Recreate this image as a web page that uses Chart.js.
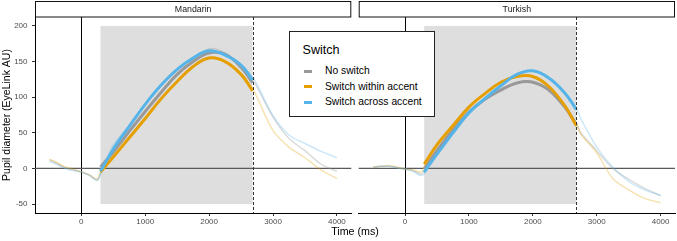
<!DOCTYPE html>
<html>
<head>
<meta charset="utf-8">
<script src="https://cdn.jsdelivr.net/npm/chart.js@4/dist/chart.umd.min.js"></script>
<style>
  body { margin: 0; background: #fff; }
  #wrap { position: relative; width: 677px; height: 241px; font-family: "Liberation Sans", Arial, sans-serif; }
  canvas { position: absolute; top: 0; }
  #legend { position: absolute; left: 289px; top: 31px; width: 146px; height: 86px; box-sizing: border-box;
            border: 1px solid #222; background: #fff; color: #000; }
  #legend .ttl { position: absolute; left: 12.5px; top: 11px; font-size: 12.6px; line-height: 15px; }
  #legend .item { position: absolute; left: 35px; font-size: 10.3px; line-height: 12px; white-space: nowrap; }
  #legend .key { position: absolute; left: -21px; top: 4.5px; width: 8px; height: 3px; }
  #xtitle { position: absolute; left: 35px; width: 640px; top: 225px; text-align: center; font-size: 10.7px; line-height: 13px; color: #000; }
</style>
</head>
<body>
<div id="wrap">
  <canvas id="mandarin" width="352" height="241" style="left:0"></canvas>
  <canvas id="turkish" width="325" height="241" style="left:352px"></canvas>
  <div id="legend">
    <div class="ttl">Switch</div>
    <div class="item" style="top:33px"><span class="key" style="background:#999999"></span>No switch</div>
    <div class="item" style="top:48.7px"><span class="key" style="background:#E69F00"></span>Switch within accent</div>
    <div class="item" style="top:64.4px"><span class="key" style="background:#56B4E9"></span>Switch across accent</div>
  </div>
  <div id="xtitle">Time (ms)</div>
</div>
<script>
// categories
const panels = ['Mandarin', 'Turkish'];
const conditions = ['No switch', 'Switch within accent', 'Switch across accent'];
const colors = ['#999999', '#E69F00', '#56B4E9'];
const fadedColors = ['rgba(153,153,153,0.35)', 'rgba(230,159,0,0.3)', 'rgba(86,180,233,0.3)'];

// ticks
const xTicks = [0, 1000, 2000, 3000, 4000];
const yTicks = [-50, 0, 50, 100, 150, 200];

// analysis window (grey box) and cut-off
const windowTime = [300, 2680];
const windowRange = [-50, 200];

// raw averaged traces
const rawTime = [-500, -375, -250, -125, 0, 125, 250, 300, 500, 750, 1000, 1250, 1500, 1750, 2000, 2250, 2500, 2680, 2750, 3000, 3250, 3500, 3750, 4000];
const mandarinRawNo     = [12, 7, 1, -2, -5, -9, -16, -7, 28, 52, 80, 107, 132, 151, 168, 162, 144, 124, 114, 72, 42, 25, 6, -4];
const mandarinRawWithin = [13, 8, 2, -1, -5, -9, -15, -6, 16, 43, 70, 98, 122, 143, 156, 151, 133, 112, 100, 53, 30, 15, -2, -14];
const mandarinRawAcross = [10, 5, 0, -3, -5, -10, -17, -8, 33, 60, 90, 117, 139, 156, 165, 160, 146, 128, 118, 74, 47, 35, 24, 15];
const turkishRawNo      = [2, 3, 3, 1, -1, -3, -8, -3, 25, 54, 79, 97, 110, 120, 122, 110, 86, 64, 50, 25, 0, -15, -28, -38];
const turkishRawWithin  = [2, 3, 4, 2, -1, -2, -5, 3, 35, 62, 86, 105, 121, 130, 129, 115, 88, 62, 48, 22, -14, -30, -42, -48];
const turkishRawAcross  = [1, 3, 3, 1, -1, -4, -10, -7, 20, 50, 78, 98, 116, 132, 137, 126, 106, 85, 70, 30, 2, -18, -30, -38];

// model fits inside the window
const fitTime = [300, 500, 750, 1000, 1250, 1500, 1750, 2000, 2250, 2500, 2680];
const mandarinFitNo     = [2, 23, 52, 80, 107, 132, 150, 162, 160, 142, 120];
const mandarinFitWithin = [-5, 16, 43, 70, 98, 122, 143, 155, 150, 132, 109];
const mandarinFitAcross = [-4, 27, 59, 90, 117, 139, 155, 165, 159, 145, 124];
const turkishFitNo      = [-1, 25, 54, 79, 97, 110, 120, 121, 110, 86, 62];
const turkishFitWithin  = [6, 33, 60, 86, 105, 121, 129, 129, 115, 88, 60];
const turkishFitAcross  = [-5, 20, 50, 78, 98, 116, 132, 137, 127, 106, 83];

const toPoints = (xs, ys) => xs.map((x, i) => ({ x: x, y: ys[i] }));

const decor = {
  id: 'decor',
  beforeDatasetsDraw(chart, args, opts) {
    const { ctx, chartArea: a, scales: { x, y } } = chart;
    ctx.save();
    // grey analysis window
    const x0 = x.getPixelForValue(windowTime[0]), x1 = x.getPixelForValue(windowTime[1]);
    const y0 = y.getPixelForValue(windowRange[1]), y1 = y.getPixelForValue(windowRange[0]);
    ctx.fillStyle = '#dedede';
    ctx.fillRect(x0, y0, x1 - x0, y1 - y0);
    // zero lines
    const zx = Math.round(x.getPixelForValue(0)) + 0.5;
    ctx.strokeStyle = '#000';
    ctx.lineWidth = 1;
    ctx.beginPath(); ctx.moveTo(zx, a.top); ctx.lineTo(zx, a.bottom); ctx.stroke();
    const zy = y.getPixelForValue(0);
    ctx.strokeStyle = '#5a5a5a';
    ctx.lineWidth = 1.2;
    ctx.beginPath(); ctx.moveTo(a.left, zy); ctx.lineTo(a.right, zy); ctx.stroke();
    ctx.restore();
  },
  afterDatasetsDraw(chart, args, opts) {
    const { ctx, chartArea: a, scales: { x } } = chart;
    ctx.save();
    // dashed cut-off line
    const cx = Math.round(x.getPixelForValue(windowTime[1])) + 0.5;
    ctx.strokeStyle = '#333';
    ctx.lineWidth = 1;
    ctx.setLineDash([3, 2]);
    ctx.beginPath(); ctx.moveTo(cx, a.top); ctx.lineTo(cx, a.bottom); ctx.stroke();
    ctx.restore();
  },
  afterDraw(chart, args, opts) {
    const { ctx, chartArea: a } = chart;
    ctx.save();
    // facet strip
    ctx.fillStyle = '#fff';
    ctx.strokeStyle = '#111';
    ctx.lineWidth = 1;
    ctx.fillRect(a.left, 1, a.right - a.left, a.top - 1);
    ctx.strokeRect(a.left + 0.5, 1.5, a.right - a.left - 1, a.top - 1.5);
    ctx.fillStyle = '#1a1a1a';
    ctx.font = '8.8px "Liberation Sans", Arial, sans-serif';
    ctx.textAlign = 'center';
    ctx.textBaseline = 'middle';
    ctx.fillText(opts.title, (a.left + a.right) / 2, (a.top + 1.5) / 2 + 0.5);
    ctx.restore();
  }
};

function makeChart(id, title, raw, fit, showY) {
  const datasets = [];
  // fits on top, blue first
  [2, 1, 0].forEach(i => {
    datasets.push({
      label: conditions[i],
      data: toPoints(fitTime, fit[i]),
      borderColor: colors[i],
      borderWidth: 3,
      pointRadius: 0,
      tension: 0.4,
      order: 0
    });
  });
  [2, 1, 0].forEach(i => {
    datasets.push({
      label: conditions[i] + ' (raw)',
      data: toPoints(rawTime, raw[i]),
      borderColor: fadedColors[i],
      borderWidth: 1.5,
      pointRadius: 0,
      tension: 0.3,
      order: 1
    });
  });

  return new Chart(document.getElementById(id), {
    type: 'line',
    data: { datasets: datasets },
    plugins: [decor],
    options: {
      responsive: false,
      animation: false,
      events: [],
      layout: { padding: showY ? { top: 17, right: 0.7, left: 0, bottom: 0 } : { top: 17, right: 2, left: 6.7, bottom: 0 } },
      plugins: {
        legend: { display: false },
        tooltip: { enabled: false },
        decor: { title: title }
      },
      scales: {
        x: {
          type: 'linear',
          min: -725,
          max: 4225,
          afterBuildTicks: s => { s.ticks = xTicks.map(v => ({ value: v })); },
          afterFit: s => { s.height = 28; },
          grid: { drawOnChartArea: false, drawTicks: true, tickLength: 3, color: '#333' },
          border: { display: true, color: '#000', width: 1 },
          ticks: {
            padding: 1,
            maxRotation: 0,
            color: '#4d4d4d',
            font: { family: '"Liberation Sans", Arial, sans-serif', size: 8 },
            callback: v => String(v)
          }
        },
        y: {
          display: showY,
          min: -62.5,
          max: 212.5,
          afterBuildTicks: s => { s.ticks = yTicks.map(v => ({ value: v })); },
          afterFit: s => { s.width = showY ? 35 : 0; },
          grid: { drawOnChartArea: false, drawTicks: true, tickLength: 3, color: '#333' },
          border: { display: true, color: '#000', width: 1 },
          ticks: {
            padding: 4.5,
            color: '#4d4d4d',
            font: { family: '"Liberation Sans", Arial, sans-serif', size: 8 },
            callback: v => String(v)
          },
          title: {
            display: true,
            text: 'Pupil diameter (EyeLink AU)',
            color: '#000',
            padding: { top: 1, bottom: 0 },
            font: { family: '"Liberation Sans", Arial, sans-serif', size: 10.5 }
          }
        }
      }
    }
  });
}

makeChart('mandarin', panels[0],
  [mandarinRawNo, mandarinRawWithin, mandarinRawAcross],
  [mandarinFitNo, mandarinFitWithin, mandarinFitAcross], true);
makeChart('turkish', panels[1],
  [turkishRawNo, turkishRawWithin, turkishRawAcross],
  [turkishFitNo, turkishFitWithin, turkishFitAcross], false);
</script>
</body>
</html>
